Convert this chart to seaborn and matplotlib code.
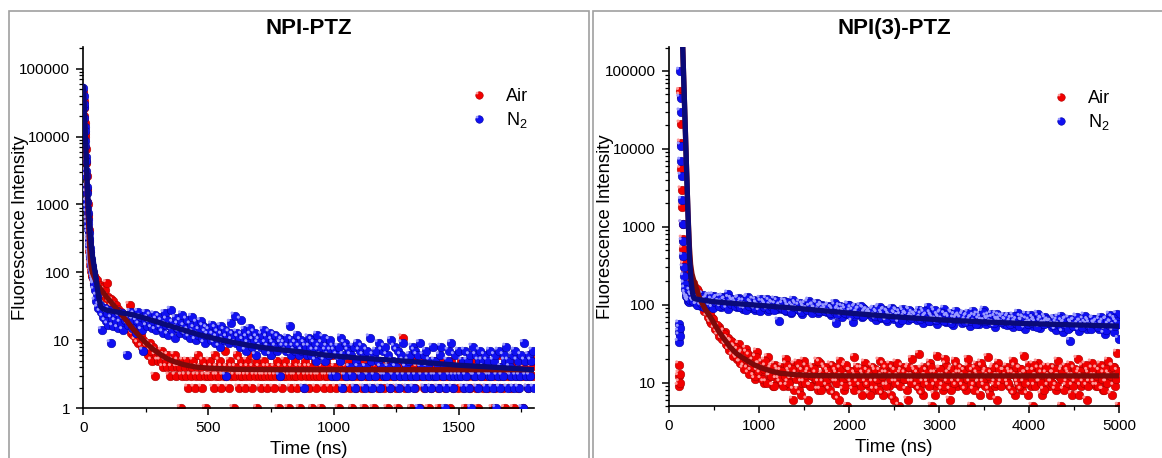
import numpy as np
import matplotlib
matplotlib.use('Agg')
import matplotlib.pyplot as plt
import seaborn as sns
from matplotlib.path import Path
from matplotlib.markers import MarkerStyle
from matplotlib.lines import Line2D
from matplotlib.legend_handler import HandlerTuple
from matplotlib.patches import Rectangle
from matplotlib.ticker import FixedLocator, MultipleLocator, LogLocator, NullFormatter, FuncFormatter

# ---------------- data : NPI-PTZ (left) ----------------
# early decay, 1 ns channels starting at t = 0
air_l_early = [45000, 26000, 33000, 20000, 17000, 16000, 10000, 11000, 6800, 6500, 4200, 4100, 2700, 2600,
               1700, 1600, 1100, 1000, 700, 640, 450, 420, 300, 280, 210, 200, 160, 155, 130, 135, 115, 120,
               105, 110, 96, 102, 90, 98, 85, 93, 82, 88, 78, 86, 75]
n2_l_early = [52000, 40000, 27000, 30000, 19000, 14000, 12000, 8500, 7200, 5000, 4300, 3100, 2600, 1800,
              1500, 1100, 900, 760, 600, 520, 430, 380, 320, 290, 250, 230, 200, 185, 170, 160, 148, 140,
              130, 125, 118, 112, 106, 100, 96, 90, 85, 80, 74, 70, 66]
# 5 ns channels starting at t = 45
air_l_main = [84, 72, 78, 64,
              66, 52, 60, 47, 55, 42, 69, 44, 36, 40, 31, 38, 27, 33, 24, 29, 22, 26, 20, 24, 17, 21, 15, 19,
              33, 13, 16, 12, 14, 10, 13, 9, 11, 12, 8, 10, 7, 9, 8, 6, 9, 7, 5, 8, 3, 6, 7, 5,
              6, 5, 7, 4, 6, 5, 4, 6, 3, 5, 4, 5, 6, 3, 4, 5, 4, 1, 3, 5,
              4, 3, 5, 2, 4, 3, 4, 5, 2, 3, 4, 6, 3, 4, 2, 5, 3, 1, 4, 3,
              5, 3, 4, 2, 6, 3, 4, 3, 5, 2, 4, 3, 7, 3, 4, 2, 5, 3, 4, 1,
              3, 4, 6, 2, 3, 5, 3, 4, 2, 3, 5, 4, 3, 6, 2, 4, 3, 5, 1, 3,
              4, 2, 3, 5, 3, 4, 2, 3, 4, 6, 3, 2, 4, 3, 5, 1, 3, 4, 2, 3,
              5, 3, 4, 1, 3, 2, 4, 3, 5, 3, 2, 4, 1, 3, 4, 2, 5, 3, 4, 2,
              3, 4, 1, 3, 5, 2, 3, 4, 3, 1, 4, 2, 3, 5, 3, 4, 2, 3, 6, 3,
              4, 2, 3, 1, 5, 3, 4, 2, 3, 4, 3, 5, 2, 3, 1, 4, 3, 2, 4, 3,
              5, 3, 2, 1, 4, 3, 3, 5, 2, 4, 3, 1, 3, 4, 2, 3, 5, 3, 4, 2,
              3, 4, 1, 3, 2, 5, 3, 4, 3, 2, 1, 4, 3, 5, 11, 3, 2, 4, 3, 3,
              4, 1, 3, 5, 2, 3, 4, 3, 1, 3, 5, 2, 4, 3, 3, 1, 4, 2, 3, 5,
              3, 4, 2, 1, 3, 5, 3, 4, 2, 3, 4, 3, 1, 5, 2, 3, 4, 3, 2, 4,
              3, 5, 2, 4, 1, 3, 3, 4, 2, 5, 3, 4, 3, 2, 1, 4, 3, 5, 2, 3,
              4, 3, 2, 5, 3, 4, 1, 3, 2, 4, 3, 6, 3, 4, 2, 3, 1, 5, 3, 4,
              3, 2, 4, 1, 3, 5, 2, 3, 4, 3, 1, 4, 3, 5, 2, 3, 6, 4, 3, 5]
n2_l_main = [55, 38, 45, 30,
             33, 26, 14, 22, 30, 19, 25, 17, 28, 9, 21, 16, 24, 19, 27, 15, 22, 18, 25, 14, 20, 23, 6, 17,
             21, 26, 15, 20, 24, 13, 19, 26, 17, 22, 14, 7, 20, 25, 16, 21, 18, 23, 15, 19, 24, 14, 20, 17,
             22, 15, 19, 13, 25, 17, 20, 12, 16, 28, 14, 18, 11, 21, 15, 17, 13, 19, 24, 14,
             16, 12, 20, 14, 11, 17, 22, 13, 15, 10, 18, 12, 14, 19, 11, 16, 9, 13, 15, 12,
             14, 10, 17, 12, 9, 15, 11, 13, 8, 16, 12, 10, 14, 3, 11, 9, 13, 18, 10, 12,
             23, 9, 13, 11, 8, 20, 12, 10, 14, 7, 11, 9, 15, 12, 8, 10, 13, 6, 11, 9,
             10, 8, 12, 14, 7, 9, 11, 8, 13, 6, 10, 9, 12, 8, 7, 11, 3, 9, 10, 8,
             9, 7, 11, 8, 16, 6, 10, 8, 7, 9, 12, 6, 8, 10, 7, 2, 9, 8, 6, 11,
             8, 6, 10, 7, 9, 5, 12, 7, 8, 6, 9, 11, 5, 7, 8, 6, 10, 7, 3, 8,
             7, 3, 6, 8, 5, 11, 2, 6, 9, 3, 8, 7, 4, 6, 3, 8, 2, 5, 9, 4,
             7, 3, 8, 6, 2, 4, 7, 3, 11, 5, 2, 6, 3, 7, 5, 9, 2, 4, 7, 3,
             8, 3, 6, 4, 2, 10, 5, 3, 8, 4, 7, 2, 3, 6, 9, 5, 3, 4, 2, 5,
             6, 3, 8, 2, 7, 3, 6, 1, 9, 4, 3, 6, 2, 7, 4, 3, 5, 2, 8, 3,
             5, 3, 4, 2, 6, 8, 3, 4, 1, 2, 5, 7, 3, 9, 2, 3, 6, 4, 3, 7,
             4, 3, 5, 2, 7, 3, 5, 2, 6, 1, 8, 3, 3, 6, 2, 5, 7, 3, 5, 4,
             6, 2, 5, 3, 7, 3, 2, 5, 6, 1, 3, 7, 2, 4, 3, 6, 5, 8, 2, 5,
             4, 3, 6, 2, 7, 3, 5, 2, 3, 6, 1, 9, 5, 3, 2, 6, 3, 5, 7, 2]
# fitted curves
air_l_fit_t = [0, 4, 8, 12, 16, 20, 24, 28, 32, 36, 42, 50, 60, 75, 90, 110, 130, 150, 175, 200, 225, 250,
               275, 300, 330, 360, 400, 450, 500, 600, 800, 1200, 1800]
air_l_fit_y = [50000, 20000, 8500, 3600, 1500, 650, 300, 160, 115, 100, 88, 76, 64, 53, 45, 37, 30, 24.5,
               19, 14.5, 11.5, 9.2, 7.6, 6.5, 5.5, 4.9, 4.4, 4.05, 3.9, 3.75, 3.7, 3.7, 3.7]
n2_l_fit_t = [0, 4, 8, 12, 16, 20, 26, 33, 40, 47, 55, 62, 70, 80, 100, 150, 200, 260, 333, 400, 466, 530,
              600, 665, 732, 800, 865, 930, 1000, 1100, 1200, 1300, 1400, 1500, 1600, 1700, 1800]
n2_l_fit_y = [55000, 25000, 10500, 4500, 2000, 950, 420, 215, 145, 100, 62, 42, 31, 29, 27.5, 25.5, 23.7,
              20.5, 16.9, 14.2, 12, 10.5, 9.3, 8.4, 7.7, 7.2, 6.8, 6.3, 5.9, 5.5, 5.2, 4.9, 4.6, 4.3, 4.1,
              3.9, 3.7]

# ---------------- data : NPI(3)-PTZ (right) ----------------
air_r_early_t = [110, 113, 116, 119, 122, 125, 128, 131, 134, 138, 142, 146, 150, 155, 160, 165, 170, 176,
                 182, 188, 194, 200, 206, 212, 218, 224, 230]
air_r_early_y = [9, 12, 17, 13, 10, 55000, 48000, 21000, 12000, 5500, 3000, 1800, 1100, 700, 520, 400, 330,
                 280, 250, 235, 220, 210, 200, 215, 190, 205, 195]
n2_r_early_t = [110, 113, 116, 119, 122, 125, 128, 131, 134, 138, 142, 146, 150, 155, 160, 165, 170, 176,
                182, 188, 194, 200, 206, 212, 218, 224, 230]
n2_r_early_y = [33, 45, 57, 40, 50, 100000, 45000, 30000, 11000, 7000, 4500, 2200, 1100, 650, 420, 300, 230,
                185, 160, 140, 130, 125, 118, 112, 122, 108, 115]
# 20 ns channels starting at t = 240
air_r_main = [210, 170, 175, 140, 150, 118, 112, 96, 100, 80, 84, 62, 68, 57, 50, 44, 52, 41, 38, 45, 30, 36, 27, 33, 24,
              28, 20, 31, 18, 24, 16, 27, 15, 22, 14, 19, 11, 25, 17, 13, 18, 10, 16, 21, 12, 15, 9, 17, 11, 14,
              10, 16, 12, 20, 9, 14, 11, 6, 17, 13, 8, 15, 10, 19, 12, 6, 14, 9, 16, 11, 13, 8, 18, 12, 10,
              15, 9, 13, 17, 11, 7, 14, 10, 19, 12, 8, 16, 5, 11, 14, 9, 21, 12, 10, 15, 7, 13, 18, 11, 9,
              12, 16, 8, 14, 10, 19, 11, 7, 13, 15, 9, 17, 12, 6, 14, 10, 5, 13, 16, 11, 8, 15, 12, 20, 10,
              14, 9, 23, 11, 7, 16, 12, 10, 18, 5, 13, 9, 22, 11, 15, 8, 12, 17, 10, 6, 14, 11, 19, 9, 13,
              10, 15, 12, 8, 20, 11, 5, 14, 9, 17, 12, 7, 16, 10, 13, 21, 8, 11, 15, 9, 6, 18, 12, 10, 14,
              11, 16, 9, 13, 19, 7, 12, 10, 15, 8, 22, 13, 11, 17, 9, 5, 14, 12, 18, 10, 7, 15, 11, 13, 9,
              16, 10, 13, 8, 19, 12, 5, 15, 11, 9, 14, 17, 7, 12, 10, 20, 13, 9, 16, 11, 6, 14, 10, 18, 12,
              9, 15, 11, 17, 8, 13, 10, 19, 12, 7, 16, 11, 24, 5]
# 20 ns channels starting at t = 250 (interleaved with the above)
air_r_main2 = [165, 190, 145, 160, 120, 104, 118, 84, 92, 70, 79, 58, 66, 49, 55, 40, 47, 36, 42, 31, 37, 26, 34, 22, 29,
               21, 26, 18, 23, 15, 20, 24, 13, 18, 16, 12, 21, 14, 17, 11, 15, 19, 10, 14, 12, 16, 9, 13, 15, 11,
               14, 9, 12, 17, 10, 13, 15, 8, 11, 18, 12, 7, 14, 10, 16, 13, 9, 12, 15, 11, 19, 10, 8, 13, 16,
               11, 14, 8, 12, 16, 10, 13, 6, 15, 11, 9, 17, 12, 14, 10, 8, 13, 16, 11, 9, 15, 12, 10, 14, 7,
               13, 10, 15, 11, 8, 14, 12, 17, 9, 13, 11, 7, 15, 10, 18, 12, 9, 14, 11, 13, 6, 16, 10, 12, 15,
               11, 13, 8, 15, 10, 12, 14, 9, 16, 11, 7, 13, 10, 15, 12, 9, 20, 11, 13, 8, 15, 10, 12, 16, 11,
               13, 9, 14, 11, 16, 10, 12, 8, 15, 13, 10, 18, 11, 9, 14, 12, 7, 13, 16, 10, 12, 15, 9, 11, 14,
               12, 10, 14, 8, 13, 16, 11, 9, 15, 12, 10, 13, 7, 14, 11, 17, 9, 12, 15, 10, 13, 8, 16, 11, 12,
               10, 13, 15, 9, 12, 11, 14, 8, 16, 10, 13, 12, 9, 15, 11, 7, 14, 12, 10, 17, 9, 13, 11, 15, 10,
               12, 9, 14, 11, 8, 15, 10, 13, 12, 16, 9, 11, 14]
n2_r_main = [150, 128, 108, 117, 100, 122, 96, 135, 110, 103, 128, 95, 115, 131, 99, 121, 108, 92, 126, 113, 104, 138, 97, 118, 109,
             112, 94, 120, 101, 88, 109, 97, 125, 91, 105, 115, 86, 103, 96, 118, 89, 107, 99, 84, 111, 93, 102, 116, 87, 62,
             97, 88, 110, 83, 102, 93, 79, 115, 90, 99, 85, 106, 76, 94, 101, 87, 112, 82, 96, 89, 104, 78, 93, 99, 84,
             92, 80, 97, 73, 88, 104, 58, 85, 95, 70, 83, 91, 76, 99, 81, 60, 72, 94, 79, 86, 69, 90, 77, 84, 75,
             81, 70, 88, 64, 77, 93, 68, 74, 85, 61, 79, 71, 90, 66, 75, 82, 58, 73, 87, 69, 76, 63, 84, 72, 67,
             74, 63, 85, 67, 59, 78, 70, 92, 62, 72, 66, 81, 57, 69, 76, 64, 88, 60, 71, 67, 79, 55, 73, 65, 70,
             68, 58, 77, 63, 71, 54, 66, 82, 60, 69, 57, 74, 62, 86, 56, 65, 72, 59, 67, 51, 75, 61, 64, 70, 57,
             63, 55, 71, 60, 52, 66, 58, 78, 54, 62, 68, 49, 64, 57, 73, 53, 61, 59, 76, 50, 65, 56, 70, 58, 62,
             59, 52, 67, 47, 62, 55, 71, 44, 58, 64, 50, 34, 57, 61, 53, 68, 46, 60, 55, 72, 49, 63, 57, 52, 66,
             54, 60, 48, 69, 56, 42, 63, 51, 74, 58, 45, 65, 75, 36]
n2_r_main2 = [135, 112, 124, 98, 118, 105, 127, 93, 114, 120, 101, 130, 90, 109, 117, 97, 124, 106, 100, 115, 88, 121, 103, 112, 96,
              104, 118, 92, 110, 99, 86, 121, 95, 107, 100, 90, 113, 98, 82, 108, 94, 103, 117, 89, 97, 105, 85, 100, 110, 92,
              90, 101, 86, 108, 95, 81, 98, 92, 104, 87, 96, 80, 100, 91, 85, 106, 93, 78, 97, 88, 102, 84, 91, 95, 82,
              87, 94, 79, 90, 84, 97, 75, 88, 82, 93, 78, 86, 100, 74, 89, 83, 91, 77, 85, 95, 72, 88, 80, 84, 78,
              76, 85, 72, 80, 89, 70, 78, 83, 66, 81, 74, 87, 69, 77, 84, 71, 79, 64, 82, 75, 73, 86, 68, 78, 74,
              71, 78, 65, 74, 83, 68, 72, 61, 77, 70, 86, 64, 73, 67, 79, 62, 75, 69, 71, 58, 76, 66, 82, 68, 72,
              66, 73, 60, 69, 78, 62, 67, 71, 56, 74, 64, 68, 80, 61, 70, 63, 66, 75, 58, 69, 64, 72, 60, 67, 71,
              62, 68, 57, 65, 72, 59, 63, 54, 69, 61, 66, 74, 56, 62, 58, 67, 63, 51, 70, 60, 64, 57, 66, 61, 59,
              60, 55, 64, 58, 68, 52, 61, 57, 63, 49, 66, 59, 54, 62, 70, 56, 60, 51, 64, 58, 55, 61, 48, 65, 57,
              58, 52, 63, 56, 60, 47, 64, 55, 59, 68, 53, 61, 57]
air_r_fit_t = [150, 165, 180, 195, 210, 227, 240, 255, 270, 290, 310, 344, 400, 450, 492, 550, 600, 678, 750,
               863, 950, 1048, 1150, 1233, 1400, 1604, 2000, 5000]
air_r_fit_y = [250000, 70000, 20000, 5500, 1600, 550, 330, 250, 215, 180, 155, 118, 88, 72, 60, 46, 38, 28.6,
               23.5, 19.3, 16.8, 15.1, 13.9, 13.2, 12.6, 12.3, 12.2, 12.2]
n2_r_fit_t = [150, 165, 180, 195, 210, 227, 245, 262, 275, 300, 400, 500, 750, 1000, 1500, 2000, 2500, 3000,
              3500, 4000, 4500, 5000]
n2_r_fit_y = [250000, 70000, 20000, 5500, 1600, 420, 200, 140, 122, 118, 113, 109, 103, 98, 88, 78, 70, 64,
              60, 57, 55, 53]

series_labels = ['Air', 'N$_2$']
titles = ['NPI-PTZ', 'NPI(3)-PTZ']

# ---------------- style ----------------
sns.set_style('ticks')
plt.rcParams['font.family'] = ['Liberation Sans', 'DejaVu Sans']
plt.rcParams['mathtext.default'] = 'regular'
for k in ['text.color', 'axes.labelcolor', 'xtick.color', 'ytick.color', 'axes.edgecolor']:
    plt.rcParams[k] = 'black'

W, H = 1162, 458
fig = plt.figure(figsize=(W / 100, H / 100), dpi=100)

RED, RED_EDGE, RED_HL = '#f20000', '#a80000', '#ff9a9a'
BLUE, BLUE_EDGE, BLUE_HL = '#1010f2', '#0000a0', '#9a9aff'
RED_FIT, BLUE_FIT = '#7d0a0a', '#0a0a78'
hl_marker = MarkerStyle(Path.circle(center=(-0.2, 0.2), radius=0.11))
S = 38


def spheres(ax, t, y, col, edge, hl, z):
    sns.scatterplot(x=t, y=y, ax=ax, s=S, color=col, edgecolor=edge, linewidth=0.4, zorder=z, legend=False)
    sns.scatterplot(x=t, y=y, ax=ax, s=S, marker=hl_marker, color=hl, edgecolor='none', linewidth=0,
                    zorder=z + 0.1, legend=False)


def style_axes(ax, xmax, xmajor, xminor, ymin, ytop, ymajors):
    ax.set_xlim(0, xmax)
    ax.set_ylim(ymin, ytop)
    for s in ['top', 'right']:
        ax.spines[s].set_visible(False)
    for s in ['left', 'bottom']:
        ax.spines[s].set_linewidth(1.2)
        ax.spines[s].set_color('black')
    ax.xaxis.set_major_locator(MultipleLocator(xmajor))
    ax.xaxis.set_minor_locator(MultipleLocator(xminor))
    ax.yaxis.set_major_locator(FixedLocator(ymajors))
    ax.yaxis.set_major_formatter(FuncFormatter(lambda v, p: f'{int(round(v))}'))
    ax.yaxis.set_minor_locator(LogLocator(base=10, subs=np.arange(2, 10)))
    ax.yaxis.set_minor_formatter(NullFormatter())
    ax.tick_params(which='major', direction='out', length=5, width=1.1, labelsize=11, pad=4.5, colors='black')
    ax.tick_params(which='minor', direction='out', length=3, width=0.9, colors='black')
    ax.grid(False)


def legend(ax, anchor):
    hr = (Line2D([], [], ls='none', marker='o', ms=5.4, mfc=RED, mec=RED_EDGE, mew=0.4),
          Line2D([], [], ls='none', marker=hl_marker, ms=5.4, mfc=RED_HL, mec='none'))
    hb = (Line2D([], [], ls='none', marker='o', ms=5.4, mfc=BLUE, mec=BLUE_EDGE, mew=0.4),
          Line2D([], [], ls='none', marker=hl_marker, ms=5.4, mfc=BLUE_HL, mec='none'))
    ax.legend([hr, hb], series_labels, handler_map={tuple: HandlerTuple(ndivide=1)},
              loc='upper left', bbox_to_anchor=anchor, frameon=False, fontsize=13,
              handlelength=1.0, handletextpad=1.0, borderpad=0, borderaxespad=0, labelspacing=0.3,
              numpoints=1)


def fit(ax, t, y, col, z):
    sns.lineplot(x=t, y=y, ax=ax, color=col, linewidth=3.8, sort=False, estimator=None, zorder=z,
                 legend=False)


# ---------- left panel ----------
axL = fig.add_axes([83.3 / W, (H - 408.3) / H, 450.7 / W, 361.6 / H])
axL.set_yscale('log')
tl_air = list(range(len(air_l_early))) + list(45 + 5 * np.arange(len(air_l_main)))
tl_n2 = list(range(len(n2_l_early))) + list(45 + 5 * np.arange(len(n2_l_main)))
spheres(axL, tl_air, air_l_early + air_l_main, RED, RED_EDGE, RED_HL, 2)
spheres(axL, tl_n2, n2_l_early + n2_l_main, BLUE, BLUE_EDGE, BLUE_HL, 3)
fit(axL, air_l_fit_t, air_l_fit_y, RED_FIT, 5)
fit(axL, n2_l_fit_t, n2_l_fit_y, BLUE_FIT, 6)
style_axes(axL, 1800, 500, 250, 1, 2.1e5, [1, 10, 100, 1000, 10000, 100000])
axL.set_title(titles[0], fontsize=16, fontweight='bold', pad=9.5)
axL.set_xlabel('Time (ns)', fontsize=13.3, labelpad=4)
axL.set_ylabel('Fluorescence Intensity', fontsize=13.3, va='center')
axL.yaxis.set_label_coords((20.5 - 83.3) / 450.7, 0.5)
legend(axL, ((470.3 - 83.3) / 450.7, (408.3 - 88) / 361.6))

# ---------- right panel ----------
axR = fig.add_axes([669 / W, (H - 406) / H, 450 / W, 359.3 / H])
axR.set_yscale('log')
tr_air = (air_r_early_t + list(240 + 20 * np.arange(len(air_r_main)))
          + list(250 + 20 * np.arange(len(air_r_main2))))
tr_n2 = (n2_r_early_t + list(240 + 20 * np.arange(len(n2_r_main)))
         + list(250 + 20 * np.arange(len(n2_r_main2))))
spheres(axR, tr_air, air_r_early_y + air_r_main + air_r_main2, RED, RED_EDGE, RED_HL, 2)
spheres(axR, tr_n2, n2_r_early_y + n2_r_main + n2_r_main2, BLUE, BLUE_EDGE, BLUE_HL, 3)
fit(axR, air_r_fit_t, air_r_fit_y, RED_FIT, 5)
fit(axR, n2_r_fit_t, n2_r_fit_y, BLUE_FIT, 6)
style_axes(axR, 5000, 1000, 500, 5, 2.05e5, [10, 100, 1000, 10000, 100000])
axR.set_title(titles[1], fontsize=16, fontweight='bold', pad=9.5)
axR.set_xlabel('Time (ns)', fontsize=13.3, labelpad=4)
axR.set_ylabel('Fluorescence Intensity', fontsize=13.3, va='center')
axR.yaxis.set_label_coords((606 - 669) / 450, 0.5)
legend(axR, ((1051.8 - 669) / 450, (406 - 90) / 359.3))

# ---------- panel frames ----------
fig.add_artist(Rectangle((9 / W, -0.1), (589 - 9) / W, 1 - 11 / H + 0.1, transform=fig.transFigure,
                         fill=False, edgecolor='#a0a0a0', linewidth=1.2, zorder=0))
fig.add_artist(Rectangle((593 / W, -0.1), 0.6, 1 - 11 / H + 0.1, transform=fig.transFigure,
                         fill=False, edgecolor='#a0a0a0', linewidth=1.2, zorder=0))

fig.savefig('out.png', dpi=100, facecolor='white')
